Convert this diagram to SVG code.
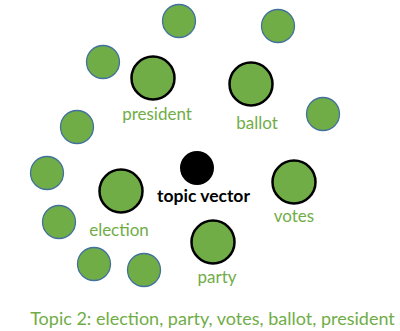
<svg xmlns="http://www.w3.org/2000/svg" width="400" height="331" viewBox="0 0 400 331">
  <style>
    .dot { fill: #70AD47; stroke: #41719C; stroke-width: 1.3; }
    .word { fill: #70AD47; stroke: #000; stroke-width: 2.5; }
    .label { font-family: Lato, "Liberation Sans", sans-serif; font-size: 17px; fill: #70AD47; text-anchor: middle; }
    .caption { font-size: 18px; }
    .center { fill: #000; }
    .center-label { font-family: Lato, "Liberation Sans", sans-serif; font-size: 17.5px; font-weight: bold; fill: #000; text-anchor: middle; }
  </style>
  <rect width="400" height="331" fill="#fff"/>

  <!-- surrounding words of other topics -->
  <g id="others">
    <circle class="dot" cx="179" cy="21" r="16.5"/>
    <circle class="dot" cx="278" cy="26" r="16.5"/>
    <circle class="dot" cx="103" cy="62" r="16.5"/>
    <circle class="dot" cx="323" cy="114" r="16.5"/>
    <circle class="dot" cx="77" cy="127" r="16.5"/>
    <circle class="dot" cx="47" cy="173" r="16.5"/>
    <circle class="dot" cx="59" cy="222" r="16.5"/>
    <circle class="dot" cx="94" cy="264" r="16.5"/>
    <circle class="dot" cx="144" cy="270" r="16.5"/>
  </g>

  <g id="president">
    <circle class="word" cx="153" cy="78" r="21.5"/>
    <text class="label" x="157" y="120">president</text>
  </g>
  <g id="ballot">
    <circle class="word" cx="251" cy="84" r="21.5"/>
    <text class="label" x="257" y="129">ballot</text>
  </g>
  <g id="election">
    <circle class="word" cx="121" cy="191" r="21.5"/>
    <text class="label" x="119" y="236">election</text>
  </g>
  <g id="votes">
    <circle class="word" cx="294" cy="182" r="21.5"/>
    <text class="label" x="294" y="222">votes</text>
  </g>
  <g id="party">
    <circle class="word" cx="213" cy="242" r="21.5"/>
    <text class="label" x="217" y="283">party</text>
  </g>

  <g id="topic-vector">
    <circle class="center" cx="197" cy="168" r="17"/>
    <text class="center-label" x="203.5" y="202">topic vector</text>
  </g>

  <g id="connectors"></g>

  <text id="caption" class="label caption" x="212.5" y="325">Topic 2: election, party, votes, ballot, president</text>
</svg>
